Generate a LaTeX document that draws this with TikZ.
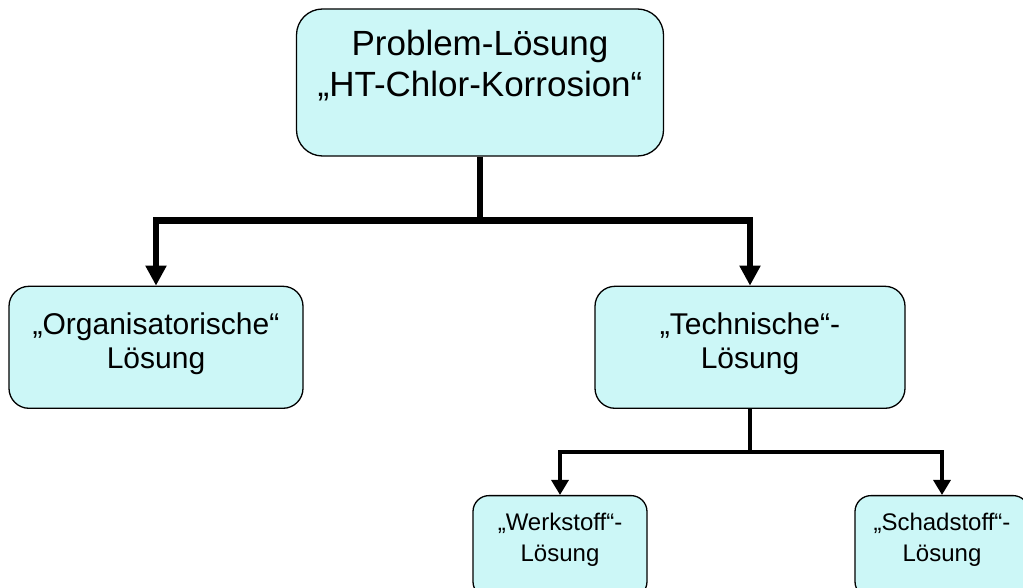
\documentclass[tikz,border=0pt]{standalone}
\usepackage{fontspec}
\setmainfont{Liberation Sans}
\usepackage{xcolor}
\usetikzlibrary{arrows.meta,positioning}
\definecolor{boxcyan}{HTML}{CCF7F7}

\begin{document}
\begin{tikzpicture}[
    x=1pt,y=1pt,
    node distance=129pt,
    box/.style={rectangle,draw=black,line width=1.3pt,fill=boxcyan,align=center},
    topbox/.style={box,rounded corners=26pt,minimum width=367pt,minimum height=147pt,
                   font=\fontsize{35}{41}\selectfont},
    midbox/.style={box,rounded corners=20pt,minimum height=122pt,
                   font=\fontsize{30}{34}\selectfont},
    lowbox/.style={box,rounded corners=16pt,minimum width=174pt,minimum height=102pt,
                   font=\fontsize{24}{31}\selectfont},
    fork/.style={line width=6.5pt,-{Triangle[width=20pt,length=20pt]}},
    subfork/.style={line width=3.3pt,-{Triangle[width=17pt,length=15pt]}}
  ]
  \useasboundingbox (0,0) rectangle (1023,-588);

  % boxes
  \node[topbox] (root) at (480,-82.5) {Problem-Lösung\\„HT-Chlor-Korrosion“\\[-2pt]};
  \node[midbox,minimum width=294pt,below=of root,xshift=-324pt] (org) {„Organisatorische“\\Lösung\\[-21pt]};
  \node[midbox,minimum width=310pt,below=of root,xshift=270pt] (tech) {„Technische“-\\Lösung\\[-21pt]};
  \node[lowbox,below=86pt of tech,xshift=-190pt] (werk) {„Werkstoff“-\\Lösung\\[-12pt]};
  \node[lowbox,below=86pt of tech,xshift=192pt] (schad) {„Schadstoff“-\\Lösung\\[-12pt]};

  % connectors
  \coordinate[below=64pt of root] (split);
  \draw[fork] (root.south) -- (split) -| (org.north);
  \draw[fork] (split) -| (tech.north);
  \coordinate[below=43pt of tech] (subsplit);
  \draw[subfork] (tech.south) -- (subsplit) -| (werk.north);
  \draw[subfork] (subsplit) -| (schad.north);
\end{tikzpicture}
\end{document}
